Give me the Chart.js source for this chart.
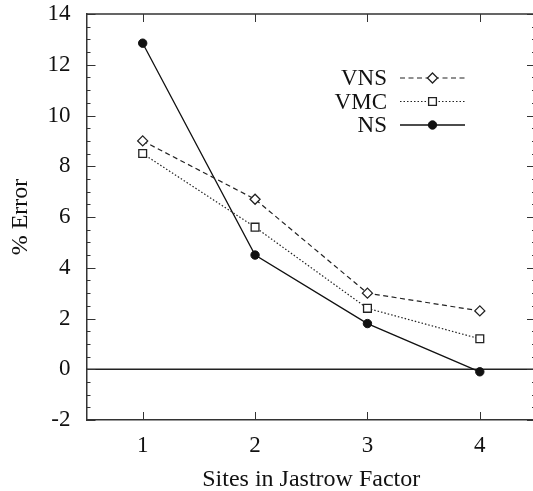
<!DOCTYPE html>
<html>
<head>
<meta charset="utf-8">
<script src="https://cdn.jsdelivr.net/npm/chart.js@4/dist/chart.umd.min.js"></script>
<style>
html,body{margin:0;padding:0;background:#fff;overflow:hidden;width:533px;height:491px;}
canvas{display:block;}
</style>
</head>
<body>
<canvas id="c" width="545" height="491"></canvas>
<script>
const sites = [1, 2, 3, 4];
const vnsValues = [9.0, 6.7, 3.0, 2.3];
const vmcValues = [8.5, 5.6, 2.4, 1.2];
const nsValues = [12.85, 4.5, 1.8, -0.1];
const seriesLabels = ['VNS', 'VMC', 'NS'];
const xTickValues = [1, 2, 3, 4];
const yTickValues = [-2, 0, 2, 4, 6, 8, 10, 12, 14];

const FONT = "'Liberation Serif', 'Times New Roman', serif";
const toPoints = vals => sites.map((s, i) => ({x: s, y: vals[i]}));

const framePlugin = {
  id: 'frame',
  beforeDatasetsDraw(chart) {
    const {ctx, chartArea: a, scales: {y}} = chart;
    const y0 = y.getPixelForValue(0);
    ctx.save();
    ctx.strokeStyle = '#222';
    ctx.lineWidth = 1.3;
    ctx.beginPath();
    ctx.moveTo(a.left, y0); ctx.lineTo(a.right, y0);
    ctx.stroke();
    ctx.restore();
  },
  afterDatasetsDraw(chart) {
    const {ctx, chartArea: a, scales: {x, y}} = chart;
    ctx.save();
    ctx.strokeStyle = '#333';
    ctx.lineWidth = 1.5;
    ctx.beginPath();
    ctx.moveTo(a.left, a.top); ctx.lineTo(a.right, a.top); ctx.lineTo(a.right, a.bottom);
    ctx.stroke();
    ctx.lineWidth = 1;
    ctx.beginPath();
    for (let v = y.min; v <= y.max + 1e-9; v += 0.5) {
      const p = Math.round(y.getPixelForValue(v)) + 0.5;
      const major = Math.abs(v / 2 - Math.round(v / 2)) < 1e-9;
      const len = major ? 9 : 4;
      ctx.moveTo(a.left, p); ctx.lineTo(a.left + len, p);
      ctx.moveTo(a.right, p); ctx.lineTo(a.right - len, p);
    }
    xTickValues.forEach(v => {
      const p = Math.round(x.getPixelForValue(v)) + 0.5;
      ctx.moveTo(p, a.bottom); ctx.lineTo(p, a.bottom - 8);
      ctx.moveTo(p, a.top); ctx.lineTo(p, a.top + 8);
    });
    ctx.stroke();
    ctx.restore();
  },
  afterDraw(chart) {
    const {ctx, chartArea: a} = chart;
    const textRight = a.left + 300.5;
    const lineL = a.left + 313.5, lineR = a.left + 378.5;
    const rows = [a.top + 64, a.top + 87.5, a.top + 111];
    ctx.save();
    ctx.font = "23px " + FONT;
    ctx.textAlign = 'right';
    ctx.textBaseline = 'middle';
    chart.data.datasets.forEach((ds, i) => {
      const yy = rows[i];
      ctx.fillStyle = '#111';
      ctx.fillText(ds.label, textRight, yy + 1);
      ctx.strokeStyle = ds.borderColor;
      ctx.lineWidth = ds.borderWidth;
      ctx.setLineDash(ds.borderDash || []);
      ctx.beginPath();
      ctx.moveTo(lineL, yy); ctx.lineTo(lineR, yy);
      ctx.stroke();
      ctx.setLineDash([]);
      const cx = (lineL + lineR) / 2;
      const r = ds.pointRadius;
      ctx.fillStyle = ds.pointBackgroundColor;
      ctx.strokeStyle = ds.pointBorderColor;
      ctx.lineWidth = ds.pointBorderWidth;
      ctx.beginPath();
      if (ds.pointStyle === 'circle') {
        ctx.arc(cx, yy, r, 0, Math.PI * 2);
      } else if (ds.pointStyle === 'rectRot') {
        ctx.moveTo(cx, yy - r); ctx.lineTo(cx + r, yy); ctx.lineTo(cx, yy + r); ctx.lineTo(cx - r, yy); ctx.closePath();
      } else {
        const h = r * Math.SQRT1_2;
        ctx.rect(cx - h, yy - h, 2 * h, 2 * h);
      }
      ctx.fill(); ctx.stroke();
    });
    ctx.restore();
  }
};

new Chart(document.getElementById('c'), {
  type: 'scatter',
  data: {
    datasets: [
      {label: seriesLabels[0], data: toPoints(vnsValues), showLine: true, borderColor: '#222', borderWidth: 1.2,
       borderDash: [5, 3.5], pointStyle: 'rectRot', pointRadius: 5, pointBackgroundColor: '#fff',
       pointBorderColor: '#222', pointBorderWidth: 1.3},
      {label: seriesLabels[1], data: toPoints(vmcValues), showLine: true, borderColor: '#222', borderWidth: 1.2,
       borderDash: [1.5, 2], pointStyle: 'rect', pointRadius: 5.5, pointBackgroundColor: '#fff',
       pointBorderColor: '#222', pointBorderWidth: 1.3},
      {label: seriesLabels[2], data: toPoints(nsValues), showLine: true, borderColor: '#111', borderWidth: 1.3,
       pointStyle: 'circle', pointRadius: 4.2, pointBackgroundColor: '#111',
       pointBorderColor: '#111', pointBorderWidth: 1}
    ]
  },
  options: {
    responsive: false,
    animation: false,
    layout: {padding: {top: 14, right: 9, left: 0, bottom: 0}},
    plugins: {legend: {display: false}, tooltip: {enabled: false}},
    scales: {
      x: {
        type: 'linear', min: 0.5, max: 4.5,
        afterBuildTicks: s => { s.ticks = xTickValues.map(v => ({value: v})); },
        afterFit: s => { s.height = 71; s.paddingLeft = 0; s.paddingRight = 0; },
        grid: {display: false},
        border: {display: true, color: '#333', width: 1.5},
        ticks: {color: '#111', font: {family: FONT, size: 23}, padding: 4, maxRotation: 0},
        title: {display: true, text: 'Sites in Jastrow Factor', color: '#111',
                font: {family: FONT, size: 24}, padding: {top: 0, bottom: -3}}
      },
      y: {
        type: 'linear', min: -2, max: 14,
        afterBuildTicks: s => { s.ticks = yTickValues.map(v => ({value: v})); },
        afterFit: s => { s.width = 86.5; s.paddingTop = 0; s.paddingBottom = 0; },
        grid: {display: false},
        border: {display: true, color: '#333', width: 1.5},
        ticks: {color: '#111', font: {family: FONT, size: 23}, padding: 8},
        title: {display: true, text: '% Error', color: '#111',
                font: {family: FONT, size: 24}, padding: {top: 6, bottom: 0}}
      }
    }
  },
  plugins: [framePlugin]
});
</script>
</body>
</html>
